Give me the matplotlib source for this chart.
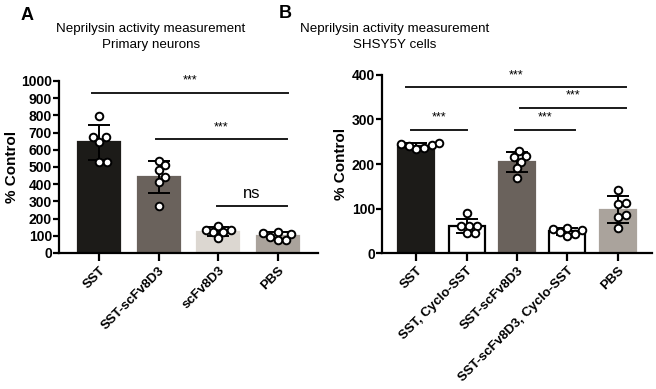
import numpy as np
import matplotlib
matplotlib.use("Agg")
import matplotlib.pyplot as plt

plt.rcParams['font.family'] = ['Liberation Sans', 'DejaVu Sans']

# ---------------- data ----------------
cats_a = ["SST", "SST-scFv8D3", "scFv8D3", "PBS"]
pts_a = [
    [798, 672, 646, 677, 531, 531],
    [537, 483, 510, 440, 411, 273],
    [134, 120, 157, 120, 134, 85],
    [95, 114, 124, 76, 76, 110],
]
colors_a = ["#1c1b18", "#6a625c", "#dcd7d1", "#aaa39c"]
yticks_a = list(range(0, 1001, 100))

cats_b = ["SST", "SST, Cyclo-SST", "SST-scFv8D3", "SST-scFv8D3, Cyclo-SST", "PBS"]
pts_b = [
    [242, 248, 235, 245, 233, 240],
    [90, 62, 62, 62, 45, 45],
    [230, 216, 218, 205, 190, 168],
    [52, 57, 54, 39, 43, 48],
    [142, 110, 112, 86, 82, 56],
]
colors_b = ["#1c1b18", "#ffffff", "#6a625c", "#ffffff", "#aaa39c"]
edges_b = ["#1c1b18", "#000000", "#6a625c", "#000000", "#aaa39c"]
yticks_b = [0, 100, 200, 300, 400]

# significance: (x_start, x_end, y, label)
sig_a = [(-0.12, 3.18, 932, "***"), (0.95, 3.15, 663, "***"), (1.98, 3.15, 275, "ns")]
sig_b = [(-0.2, 4.17, 372, "***"), (2.05, 4.17, 326, "***"),
         (-0.1, 1.0, 276, "***"), (1.97, 3.15, 276, "***")]

W, H = 656, 389
fig = plt.figure(figsize=(W / 100, H / 100), dpi=100)


def swarm_offsets(ax, x0, vals, diam_px=7.8):
    """Simple beeswarm layout in pixel space; returns x data positions."""
    trans = ax.transData
    inv = trans.inverted()
    order = np.argsort(vals)
    placed = []
    xs = np.zeros(len(vals))
    for i in order:
        px0, py = trans.transform((x0, vals[i]))
        cands = [0.0]
        for k in range(1, 60):
            cands += [k * 0.5, -k * 0.5]
        for c in cands:
            px = px0 + c
            if all((px - qx) ** 2 + (py - qy) ** 2 >= diam_px ** 2 for qx, qy in placed):
                placed.append((px, py))
                xs[i] = inv.transform((px, py))[0]
                break
    return xs


def draw_panel(ax, cats, pts, colors, edges, yticks, ymax, sigs, star_fs):
    n = len(cats)
    x = np.arange(n)
    means = [np.mean(p) for p in pts]
    sds = [np.std(p, ddof=1) for p in pts]
    ax.set_xlim(-0.68, n - 1 + 0.68)
    ax.set_ylim(0, ymax)
    for i in range(n):
        ax.bar(x[i], means[i], width=0.71, color=colors[i], edgecolor=edges[i],
               linewidth=1.6, zorder=2)
        ax.errorbar(x[i], means[i], yerr=sds[i], fmt='none', ecolor='black',
                    elinewidth=1.4, capsize=8, capthick=1.4, zorder=3)
    for i in range(n):
        xs = swarm_offsets(ax, x[i], pts[i])
        ax.scatter(xs, pts[i], s=30, facecolor='white', edgecolor='black',
                   linewidth=1.4, zorder=4, clip_on=False)
    for (xa, xb, y, lab) in sigs:
        ax.plot([xa, xb], [y, y], color='#1a1a1a', lw=1.4, clip_on=False, zorder=5)
        if lab == "ns":
            ax.text((xa + xb) / 2, y + ymax * 0.03, lab, ha='center', va='bottom',
                    fontsize=12, clip_on=False)
        else:
            ax.text((xa + xb) / 2, y + ymax * 0.035, lab, ha='center', va='bottom',
                    fontsize=star_fs, clip_on=False)
    ax.set_xticks(x)
    ax.set_xticklabels(cats, rotation=45, ha='right', rotation_mode='anchor',
                       fontsize=9.5, fontweight='bold')
    ax.set_yticks(yticks)
    ax.set_yticklabels([str(t) for t in yticks], fontsize=10, fontweight='bold')
    for s in ['top', 'right']:
        ax.spines[s].set_visible(False)
    for s in ['left', 'bottom']:
        ax.spines[s].set_linewidth(1.6)
    ax.tick_params(axis='y', length=4, width=1.6, pad=1)
    ax.tick_params(axis='x', length=6, width=1.6, pad=2)
    ax.set_ylabel("% Control", fontsize=11, fontweight='bold')


axA = fig.add_axes([59 / W, 1 - 253 / H, (318 - 59) / W, (253 - 81) / H])
draw_panel(axA, cats_a, pts_a, colors_a, colors_a, yticks_a, 1000, sig_a, 9)
axA.yaxis.set_label_coords(-0.155, 0.5)

axB = fig.add_axes([382 / W, 1 - 253.3 / H, (652 - 382) / W, (253.3 - 74.7) / H])
draw_panel(axB, cats_b, pts_b, colors_b, edges_b, yticks_b, 400, sig_b, 9)
axB.yaxis.set_label_coords(-0.125, 0.5)

fig.text(27 / W, 1 - 16 / H, "A", fontsize=13, fontweight='bold', ha='center', va='center')
fig.text(285 / W, 1 - 14 / H, "B", fontsize=13, fontweight='bold', ha='center', va='center')
fig.text(151 / W, 1 - 37 / H, "Neprilysin activity measurement\nPrimary neurons",
         ha='center', va='center', fontsize=9.6, linespacing=1.45)
fig.text(395 / W, 1 - 37 / H, "Neprilysin activity measurement\nSHSY5Y cells",
         ha='center', va='center', fontsize=9.6, linespacing=1.45)

fig.savefig("out.png", dpi=100)
